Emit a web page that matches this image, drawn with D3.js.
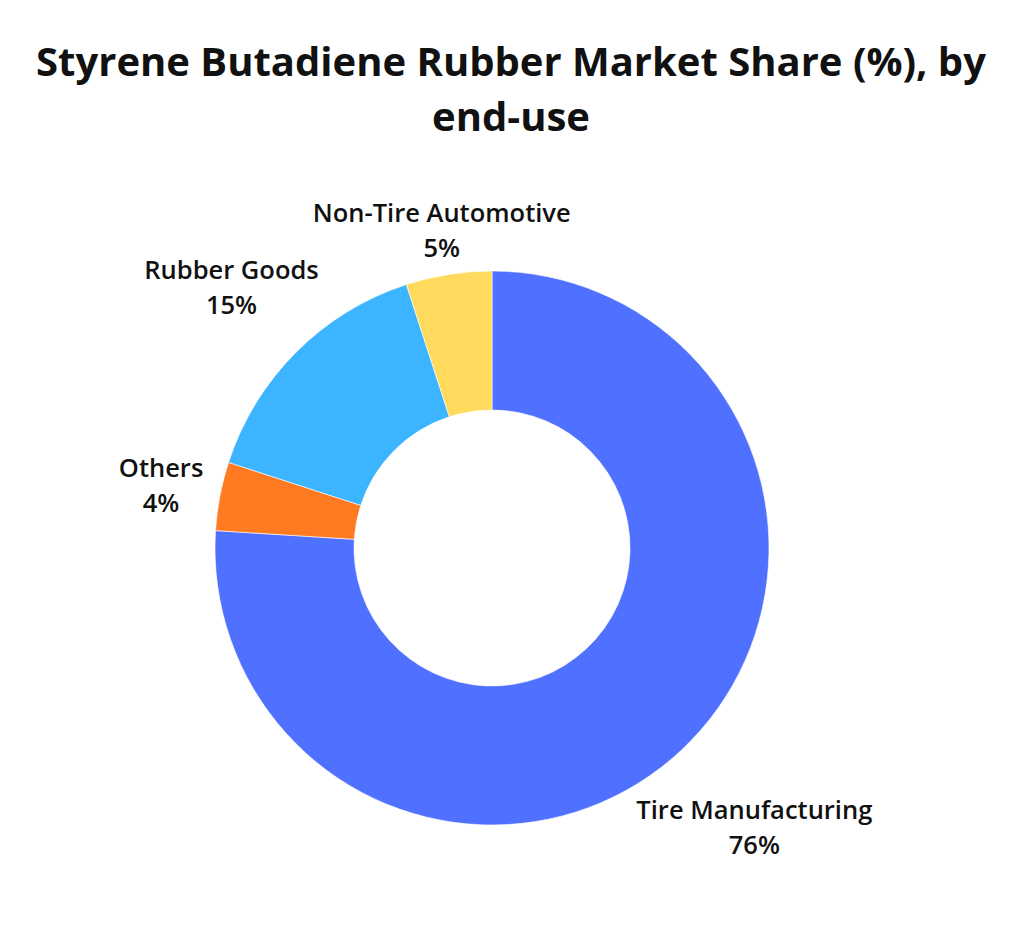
<!DOCTYPE html>
<html>
<head>
<meta charset="utf-8">
<script src="https://cdn.jsdelivr.net/npm/d3@7"></script>
<style>
  html, body { margin: 0; padding: 0; background: #fff; }
  text { font-family: "Open Sans", Lato, sans-serif; font-weight: 600; fill: #111; }
</style>
</head>
<body>
<div id="chart"></div>
<script>

const titleLines = ["Styrene Butadiene Rubber Market Share (%), by", "end-use"];

// slices clockwise from 12 o'clock
const categories = ["Tire Manufacturing", "Others", "Rubber Goods", "Non-Tire Automotive"];
const shares = [76, 4, 15, 5];
const colors = ["#5070FF", "#FF7A21", "#3CB4FF", "#FFDA5C"];

var width = 1024, height = 932;
var cx = 492, cy = 548,
    outerR = 277, innerR = 138,
    labelGap = 14, lineGap = 35, labelSize = 25.5;

var data = categories.map(function(c, i) {
  return {name: c, value: shares[i], color: colors[i]};
});

var svg = d3.select("#chart").append("svg")
    .attr("width", width)
    .attr("height", height);

// title
var title = svg.append("text")
    .attr("text-anchor", "middle")
    .attr("font-size", "40px")
    .style("font-weight", 700);

title.selectAll("tspan")
    .data(titleLines)
    .enter().append("tspan")
    .attr("x", 511)
    .attr("y", function(d, i) { return 76 + i * 55; })
    .text(function(d) { return d; });

var pie = d3.pie()
    .sort(null)
    .value(function(d) { return d.value; });

var arc = d3.arc()
    .innerRadius(innerR)
    .outerRadius(outerR);

var g = svg.append("g")
    .attr("transform", "translate(" + cx + "," + cy + ")");

var arcs = pie(data);

g.selectAll(".slice")
    .data(arcs)
  .enter().append("path")
    .attr("class", "slice")
    .attr("d", arc)
    .attr("fill", function(d) { return d.data.color; })
    .attr("stroke", "#fff")
    .attr("stroke-width", 0.6);

// LABELS
// ========================
// each label sits on the slice's mid angle, pushed out until its
// box clears the ring by labelGap
function boxDist(x0, x1, y0, y1) {
  var dx = Math.max(x0, 0, -x1),
      dy = Math.max(y0, 0, -y1);
  return Math.sqrt(dx * dx + dy * dy);
}

var labels = g.selectAll(".label")
    .data(arcs)
  .enter().append("text")
    .attr("class", "label")
    .attr("text-anchor", "middle")
    .attr("font-size", labelSize + "px");

labels.append("tspan")
    .attr("x", 0).attr("y", 0)
    .text(function(d) { return d.data.name; });

labels.append("tspan")
    .attr("x", 0).attr("y", lineGap)
    .text(function(d) { return d.data.value + "%"; });

labels.each(function(d) {
  var el = d3.select(this);
  var w = 0;
  el.selectAll("tspan").each(function() {
    w = Math.max(w, this.getComputedTextLength());
  });
  var capH = labelSize * 0.72;
  var a = (d.startAngle + d.endAngle) / 2,
      s = Math.sin(a), c = -Math.cos(a);
  var target = outerR + labelGap;
  var lo = 0, hi = 1000;
  for (var k = 0; k < 60; k++) {
    var m = (lo + hi) / 2;
    // box center at distance m along angle
    var bx = m * s, by = m * c;
    var dist = boxDist(bx - w / 2, bx + w / 2,
                       by - (lineGap + capH) / 2, by + (lineGap + capH) / 2);
    if (dist < target) lo = m; else hi = m;
  }
  var px = lo * s, py = lo * c - (lineGap - capH) / 2;
  el.attr("transform", "translate(" + px + "," + py + ")");
});

</script>
</body>
</html>
